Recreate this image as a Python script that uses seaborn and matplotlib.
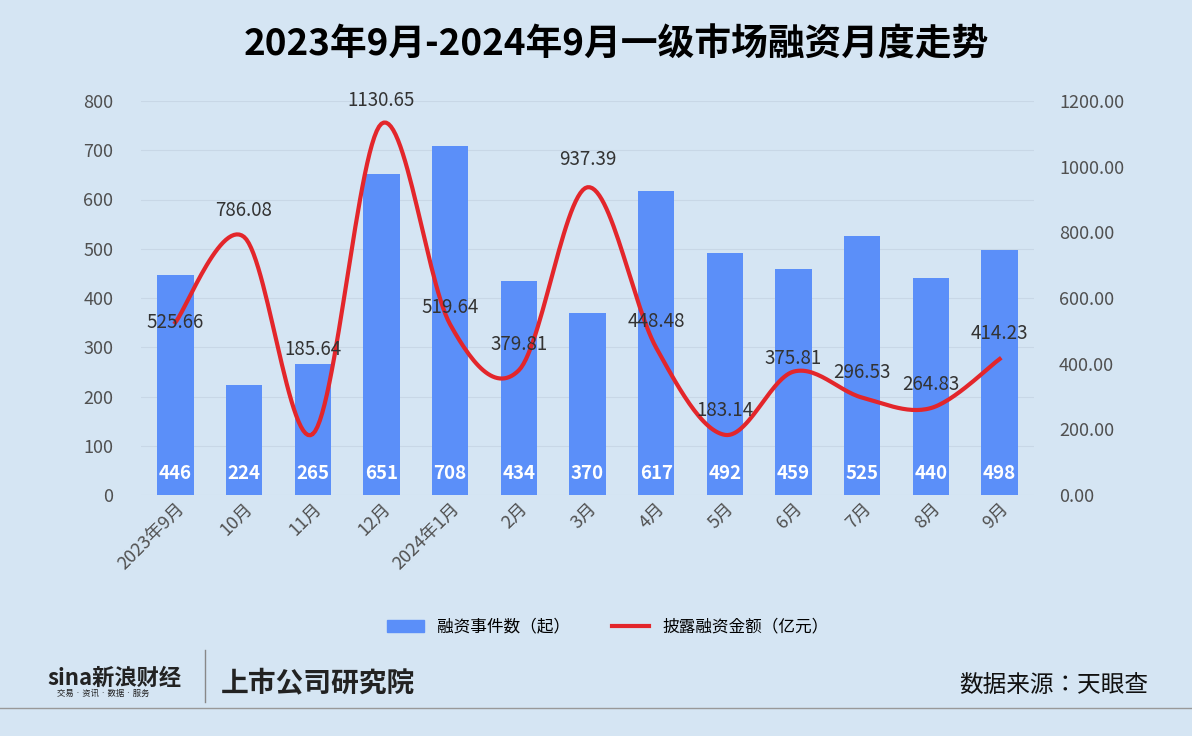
import numpy as np
import pandas as pd
import seaborn as sns
import matplotlib
matplotlib.use("Agg")
import matplotlib.pyplot as plt
from matplotlib import font_manager as fm

paths = [p for p in fm.findSystemFonts() if "cjk" in p.lower()]
for p in paths:
    try:
        fm.fontManager.addfont(p)
    except Exception:
        pass
names = sorted({f.name for f in fm.fontManager.ttflist if "CJK" in f.name})
cjk_name = "Noto Sans CJK SC"
for pref in ["Noto Sans CJK SC", "Noto Sans CJK JP"]:
    if pref in names:
        cjk_name = pref
        break
else:
    if names:
        cjk_name = names[0]
plt.rcParams["font.family"] = "sans-serif"
plt.rcParams["font.sans-serif"] = [cjk_name, "DejaVu Sans"]

months = ["2023年9月", "10月", "11月", "12月", "2024年1月", "2月", "3月", "4月", "5月", "6月", "7月", "8月", "9月"]
events = [446, 224, 265, 651, 708, 434, 370, 617, 492, 459, 525, 440, 498]
amounts = [525.66, 786.08, 185.64, 1130.65, 519.64, 379.81, 937.39, 448.48, 183.14, 375.81, 296.53, 264.83, 414.23]

bg = "#d5e5f3"
fig = plt.figure(figsize=(11.92, 7.36), dpi=100, facecolor=bg)
ax = fig.add_axes([141/1192, 1-495/736, (1034-141)/1192, (495-101)/736])
ax.set_facecolor(bg)
df = pd.DataFrame({"m": months, "e": events})
sns.barplot(data=df, x="m", y="e", color="#5b8ff9", saturation=1, width=0.53, ax=ax, zorder=2)
ax.set_ylim(0, 800)
ax.set_yticks(range(0, 801, 100))
ax.grid(axis="y", color="#c8d7e6", lw=0.8, zorder=0)
for s in ax.spines.values():
    s.set_visible(False)
ax.tick_params(axis="y", length=0, labelsize=13, colors="#505050", pad=20)
ax.tick_params(axis="x", length=0, labelsize=13, colors="#505050")
ax.set_xlabel(""); ax.set_ylabel("")
ax.set_xticks(range(len(months)))
ax.set_xticklabels(months, rotation=45, ha="right", rotation_mode="anchor", fontsize=13)
for i, v in enumerate(events):
    ax.text(i, 43, str(v), ha="center", va="center", color="white", fontsize=13.5, fontweight="bold", zorder=5)

ax2 = ax.twinx()
ax2.set_ylim(0, 1200)
ax2.set_yticks(range(0, 1201, 200))
ax2.set_yticklabels([f"{v:.2f}" for v in range(0, 1201, 200)])
ax2.tick_params(length=0, labelsize=13, colors="#505050", pad=18)
for s in ax2.spines.values():
    s.set_visible(False)

x = np.arange(len(amounts), dtype=float); y = np.array(amounts)
px = np.concatenate([[x[0]], x, [x[-1]]]); py = np.concatenate([[y[0]], y, [y[-1]]])
xs, ys = [], []
t = np.linspace(0, 1, 30)
for i in range(1, len(px) - 2):
    for arr, out in ((px, xs), (py, ys)):
        p0, p1, p2, p3 = arr[i-1], arr[i], arr[i+1], arr[i+2]
        out.extend(0.5*((2*p1) + (-p0+p2)*t + (2*p0-5*p1+4*p2-p3)*t**2 + (-p0+3*p1-3*p2+p3)*t**3))
ax2.plot(xs, ys, color="#e3262b", lw=3, zorder=4)
label_offsets = [0, 79, 256, 72, 50, 80, 83, 79, 73, 41, 78, 73, 79]
for i, v in enumerate(amounts):
    ax2.text(i, v + label_offsets[i], f"{v:.2f}", ha="center", va="center", fontsize=13.5, color="#333333", zorder=6)
ax.set_xlim(-0.5, len(months) - 0.5)
ax2.set_xlim(-0.5, len(months) - 0.5)

fig.text(0.517, 1-45/736, "2023年9月-2024年9月一级市场融资月度走势", ha="center", va="center", fontsize=26.5, fontweight="bold")

from matplotlib.patches import Patch
from matplotlib.lines import Line2D
fig.legend(handles=[Patch(color="#5b8ff9", label="融资事件数（起）"),
                    Line2D([], [], color="#e3262b", lw=3, label="披露融资金额（亿元）")],
           loc="center", bbox_to_anchor=(0.51, 1-627/736), ncol=2, frameon=False, fontsize=12,
           handlelength=2.2, columnspacing=2.5)

fig.text(0.04, 1-678/736, "sina新浪财经", fontsize=16, fontweight="bold", color="#222222", va="center")
fig.text(0.048, 1-693/736, "交易 · 资讯 · 数据 · 服务", fontsize=6, color="#222222", va="center")
fig.add_artist(Line2D([205/1192]*2, [1-650/736, 1-702/736], color="#888888", lw=1))
fig.text(0.185, 1-683/736, "上市公司研究院", fontsize=20, fontweight="bold", style="italic", color="#222222", va="center")
fig.text(0.963, 1-686/736, "数据来源：天眼查", fontsize=17, ha="right", va="center", color="#111111")
fig.add_artist(Line2D([0, 1], [1-708/736]*2, color="#999999", lw=1))
fig.savefig("out.png", dpi=100, facecolor=bg)
